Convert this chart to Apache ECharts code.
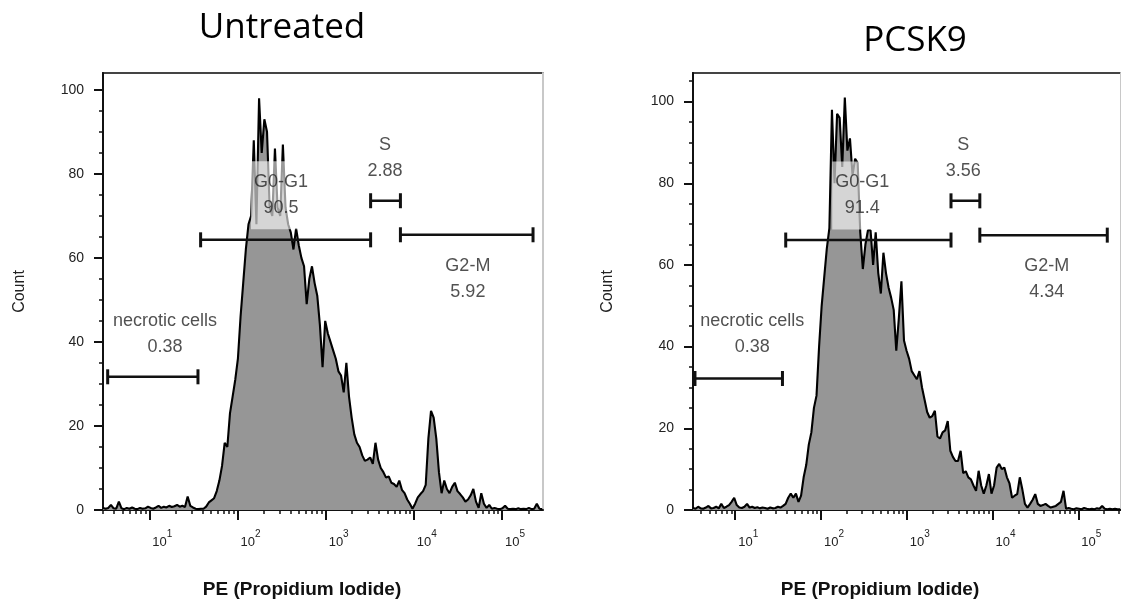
<!DOCTYPE html>
<html>
<head>
<meta charset="utf-8">
<script src="https://cdn.jsdelivr.net/npm/echarts@6/dist/echarts.min.js"></script>
<style>
html, body { margin: 0; padding: 0; background: #ffffff; }
#chart { width: 1121px; height: 606px; }
</style>
</head>
<body>
<div id="chart"></div>
<script>
// ---------------- data ----------------
const panelTitles = ['Untreated', 'PCSK9'];
const gateNames = ['necrotic cells', 'G0-G1', 'S', 'G2-M'];
const untreatedGatePercents = ['0.38', '90.5', '2.88', '5.92'];
const pcsk9GatePercents = ['0.38', '91.4', '3.56', '4.34'];
// gate boundaries in log10(PE intensity)
const untreatedGateRanges = [[0.528, 1.552], [1.582, 3.510], [3.510, 3.848], [3.848, 5.352]];
const pcsk9GateRanges = [[0.531, 1.551], [1.589, 3.516], [3.516, 3.852], [3.852, 5.338]];
const xTickExponents = [1, 2, 3, 4, 5];
const yTickValues = [0, 20, 40, 60, 80, 100];
const minorTickMultipliers = [2, 3, 4, 5, 6, 7, 8, 9];
const minorTickDecades = [0, 1, 2, 3, 4, 5];
// histogram channels: log10(PE) of first channel and channel width
const histogramBinStep = 0.03;
const untreatedBinStart = 0.475;
const pcsk9BinStart = 0.508;
const untreatedCounts = [
  0.5,0.3,0.5,1.2,0.4,0.3,2.0,0.4,0.2,0.5,
  0.3,0.6,0.3,0.2,0.5,0.3,0.4,0.8,0.5,0.3,
  0.6,1.0,0.5,0.8,0.6,1.0,0.7,0.9,1.2,0.8,
  1.0,0.7,3.2,1.0,0.6,0.3,0.2,0.3,0.3,0.8,
  1.8,2.3,2.8,4.5,7,10.5,16,15,23,27,
  31,36,46,54,62,68,70,88,68,98,
  85,93,90,72,70,86,72,70,87,72,
  68,66,62,67,63,60,58,49,55,58,
  54,51,44,34,45,42,40,38,36,33,
  32,28,35,27,22,18,16,15,13,11.7,
  12,12.5,11,16,12,10,9,7.7,8,6.5,
  6.2,5.5,7,4.8,4,2.5,1.5,0.3,1.5,3,
  3.8,4.5,6,17,23.6,22,17,9,4,7,
  5,4,5.5,6.5,4.5,3.8,3,2,2.5,3.5,
  5,2,0.5,4,1.5,0.5,1.2,0.3,0.5,0.3,
  0.2,0.4,1,0.3,0.2,0.3,0.2,0.4,0.2,0.3,
  0.2,0.5,0.2,0.3,1.5,0.3,0.2
];
const pcsk9Counts = [
  0.5,0.3,0.8,0.4,0.3,0.6,1.0,0.4,0.5,0.8,
  0.4,1.5,0.5,0.8,1.2,2.0,3.0,1.2,0.6,0.5,
  0.8,1.5,0.6,0.8,0.5,0.7,0.4,0.6,0.5,0.3,
  0.6,0.4,0.5,0.8,0.6,1.0,1.5,3,4,3,
  4,2,3.5,8,11,16,19,25,28,40,
  50,57,64,69,98,80,97,96,84,101,
  88,91,82,86,85,68,59,65,68.5,68.5,
  60,68,58,53,63,58,54.5,52,49,39,
  47,56,41.5,39,37,34,33,32,34,30,
  27,24,22.6,23,24.3,18,17.5,19,19.5,21.8,
  14.5,13,12,12,14.5,9,9.5,8,7.5,6,
  4.7,9.6,6,4,6,8.8,4,6,10.4,11.3,
  10,10.4,8,6.5,3,3.5,3.9,8,5,1.5,
  0.6,1.5,2.5,3.9,1.5,1,1.2,1.5,1,0.6,
  0.8,1,1.5,2,4.7,0.3,0.5,0.3,0.2,0.4,
  0.3,0.2,0.5,0.3,0.2,0.3,0.2,0.4,0.3,1.0,
  0.3,0.2,0.3,0.2,0.3,0.2,0.2
];

// ---------------- layout / style ----------------
const SANS = "'Liberation Sans', Arial, sans-serif";
const panels = [
  {
    title: panelTitles[0], counts: untreatedCounts, binStart: untreatedBinStart,
    gateRanges: untreatedGateRanges, percents: untreatedGatePercents,
    grid: { left: 103, top: 73, width: 440, height: 437 },
    xMin: 0.475, xMax: 5.465, yMax: 104,
    titleX: 282, titleY: 11,
    gateLevels: [31.7, 64.3, 73.6, 65.5],
    labelAt: [[1.178, 41.9], [2.493, 74.9], [3.672, 83.8], [4.613, 55]],
    yNameGap: 75, xNamePad: 42
  },
  {
    title: panelTitles[1], counts: pcsk9Counts, binStart: pcsk9BinStart,
    gateRanges: pcsk9GateRanges, percents: pcsk9GatePercents,
    grid: { left: 693, top: 73, width: 440, height: 437 },
    xMin: 0.508, xMax: 5.498, yMax: 107,
    titleX: 915, titleY: 24,
    gateLevels: [32.2, 66.1, 75.7, 67.3],
    labelAt: [[1.200, 43.1], [2.481, 77.0], [3.660, 86.2], [4.632, 56.6]],
    yNameGap: 77, xNamePad: 54
  }
];

const minorTickExponents = [];
minorTickDecades.forEach(d => minorTickMultipliers.forEach(m => minorTickExponents.push(Math.log10(m) + d)));

const option = {
  animation: false,
  backgroundColor: '#ffffff',
  title: [], grid: [], xAxis: [], yAxis: [], series: []
};

panels.forEach((p, k) => {
  option.title.push({
    text: p.title, left: p.titleX, top: p.titleY, textAlign: 'center', padding: 0,
    textStyle: { fontFamily: "'Open Sans', 'Noto Sans', sans-serif", fontSize: 35, fontWeight: 500, color: '#000' }
  });
  option.grid.push(Object.assign({ show: true, borderColor: '#444', borderWidth: 2, backgroundColor: 'transparent' }, p.grid));

  // main bottom x axis (decades)
  option.xAxis.push({
    type: 'value', gridIndex: k, min: p.xMin, max: p.xMax, position: 'bottom',
    axisLine: { show: true, onZero: false, lineStyle: { color: '#111', width: 2 } },
    axisTick: { show: true, customValues: xTickExponents, length: 10, lineStyle: { color: '#111', width: 2 } },
    axisLabel: {
      show: true, customValues: xTickExponents, margin: 19, align: 'left', padding: [0, 0, 0, 3],
      formatter: v => '{b|10}{s|' + Math.round(v) + '}',
      rich: {
        b: { fontFamily: SANS, fontSize: 13, color: '#222', verticalAlign: 'bottom' },
        s: { fontFamily: SANS, fontSize: 10, color: '#222', padding: [0, 0, 10, 0] }
      }
    },
    splitLine: { show: false },
    name: 'PE (Propidium Iodide)', nameLocation: 'middle', nameGap: 70,
    nameTextStyle: { fontFamily: SANS, fontSize: 19, fontWeight: 'bold', color: '#111', padding: [0, p.xNamePad, 0, 0] }
  });
  // minor log ticks (drawn at the bottom edge)
  option.xAxis.push({
    type: 'value', gridIndex: k, min: p.xMin, max: p.xMax, position: 'top', offset: -p.grid.height,
    axisLine: { show: false },
    axisTick: { show: true, inside: true, customValues: minorTickExponents, length: 4, lineStyle: { color: '#111', width: 1.5 } },
    axisLabel: { show: false },
    splitLine: { show: false }
  });

  option.yAxis.push({
    type: 'value', gridIndex: k, min: 0, max: p.yMax, interval: 20, position: 'left',
    axisLine: { show: true, onZero: false, lineStyle: { color: '#111', width: 2 } },
    axisTick: { show: true, customValues: yTickValues, length: 9, lineStyle: { color: '#111', width: 2 } },
    minorTick: { show: true, splitNumber: 4, length: 4, lineStyle: { color: '#111', width: 1.5 } },
    axisLabel: { show: true, customValues: yTickValues, margin: 19, fontFamily: SANS, fontSize: 14, color: '#222' },
    splitLine: { show: false },
    name: 'Count', nameLocation: 'middle', nameGap: p.yNameGap,
    nameTextStyle: { fontFamily: SANS, fontSize: 16, color: '#222' }
  });
  option.yAxis.push({
    type: 'value', gridIndex: k, min: 0, max: p.yMax, position: 'right',
    axisLine: { show: true, onZero: false, lineStyle: { color: '#c8c8c8', width: 2 } },
    axisTick: { show: false }, axisLabel: { show: false }, splitLine: { show: false }
  });

  const xi = 2 * k, yi = 2 * k;
  option.series.push({
    type: 'line', xAxisIndex: xi, yAxisIndex: yi, silent: true, z: 2,
    data: p.counts.map((c, i) => [p.binStart + i * histogramBinStep, c]),
    showSymbol: false, symbol: 'none',
    lineStyle: { color: '#000', width: 2.1 },
    areaStyle: { color: '#969696', opacity: 1 }
  });
  p.gateRanges.forEach((r, g) => {
    option.series.push({
      type: 'line', xAxisIndex: xi, yAxisIndex: yi, silent: true, z: 4,
      data: [[r[0], p.gateLevels[g]], [r[1], p.gateLevels[g]]],
      symbol: 'rect', symbolSize: [3, 15], showSymbol: true,
      itemStyle: { color: '#111' },
      lineStyle: { color: '#111', width: 2.5 }
    });
  });
  option.series.push({
    type: 'scatter', xAxisIndex: xi, yAxisIndex: yi, silent: true, z: 5,
    symbolSize: 1, itemStyle: { color: 'rgba(0,0,0,0)' },
    data: gateNames.map((n, g) => [p.labelAt[g][0], p.labelAt[g][1], n, p.percents[g]]),
    label: {
      show: true, position: 'inside',
      formatter: q => q.data[2] + '\n' + q.data[3],
      fontFamily: SANS, fontSize: 18, lineHeight: 26, color: '#262626',
      backgroundColor: 'rgba(255,255,255,0.75)', padding: [8, 3]
    }
  });
});

const chart = echarts.init(document.getElementById('chart'), null, { renderer: 'canvas' });
chart.setOption(option);
</script>
</body>
</html>
